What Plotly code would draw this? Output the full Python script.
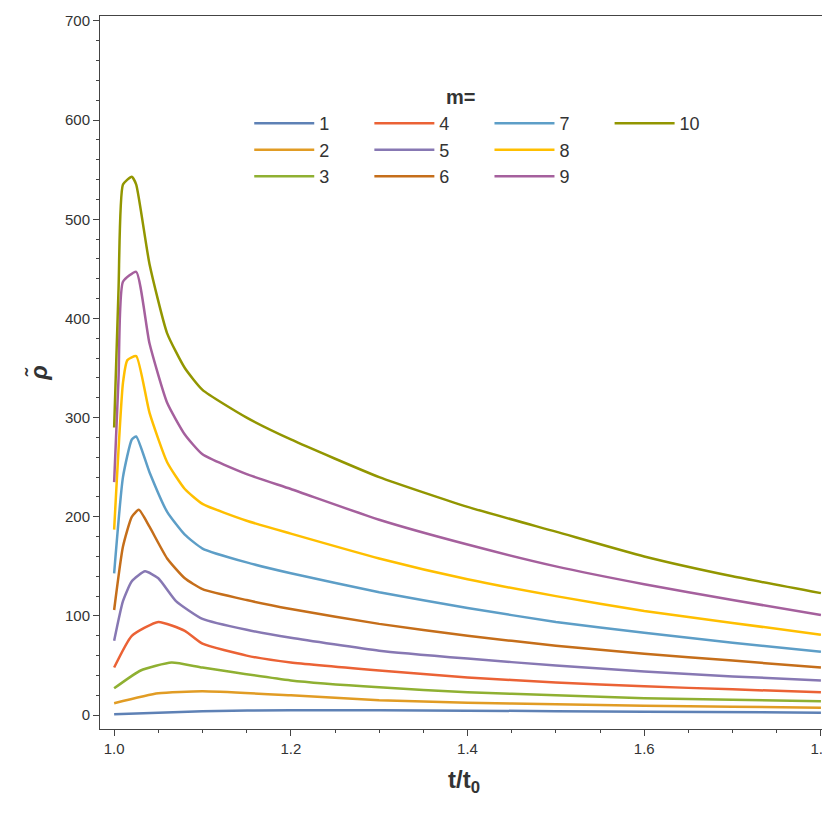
import plotly.graph_objects as go

COLORS = ["#5E81B5", "#E19C24", "#8FB032", "#EB6235", "#8778B3",
          "#C56E1A", "#5D9EC7", "#FFBF00", "#A5609D", "#929600"]

# values, t/t0 -> rho~
t1 = [1.0, 1.1, 1.2, 1.4, 1.6, 1.8]
r1 = [1, 4, 5, 4.5, 3.5, 2.5]
t2 = [1.0, 1.05, 1.1, 1.2, 1.3, 1.4, 1.5, 1.6, 1.7, 1.8]
r2 = [12, 22, 24, 20, 15, 12.5, 11, 9.5, 8.5, 7.5]
t3 = [1.0, 1.03, 1.065, 1.1, 1.2, 1.3, 1.4, 1.5, 1.6, 1.7, 1.8]
r3 = [27, 45, 53, 48, 35, 28, 23, 20, 17, 15.5, 14]
t4 = [1.0, 1.02, 1.05, 1.08, 1.1, 1.15, 1.2, 1.3, 1.4, 1.5, 1.6, 1.7, 1.8]
r4 = [48, 80, 94, 85, 72, 60, 53, 45, 38, 33, 29, 26, 23]
t5 = [1.0, 1.01, 1.02, 1.035, 1.05, 1.07, 1.1, 1.15, 1.2, 1.3, 1.4, 1.5, 1.6, 1.7, 1.8]
r5 = [75, 115, 135, 145, 138, 115, 97, 86, 78, 65, 57, 50, 44, 39, 35]
t6 = [1.0, 1.01, 1.02, 1.028, 1.04, 1.06, 1.08, 1.1, 1.15, 1.2, 1.3, 1.4, 1.5, 1.6, 1.7, 1.8]
r6 = [106, 170, 200, 207, 190, 158, 138, 127, 116, 107, 92, 80, 70, 62, 55, 48]
t7 = [1.0, 1.01, 1.02, 1.025, 1.04, 1.06, 1.08, 1.1, 1.15, 1.2, 1.3, 1.4, 1.5, 1.6, 1.7, 1.8]
r7 = [143, 240, 278, 281, 245, 205, 182, 168, 154, 143, 124, 108, 94, 83, 73, 64]
t8 = [1.0, 1.01, 1.015, 1.025, 1.04, 1.06, 1.08, 1.1, 1.15, 1.2, 1.3, 1.4, 1.5, 1.6, 1.7, 1.8]
r8 = [187, 335, 358, 362, 305, 255, 228, 213, 196, 183, 158, 137, 120, 105, 93, 81]
t9 = [1.0, 1.005, 1.01, 1.025, 1.04, 1.06, 1.08, 1.1, 1.15, 1.2, 1.3, 1.4, 1.5, 1.6, 1.7, 1.8]
r9 = [235, 340, 437, 447, 375, 315, 283, 263, 243, 228, 197, 172, 150, 132, 116, 101]
t10 = [1.0, 1.005, 1.01, 1.02, 1.025, 1.04, 1.06, 1.08, 1.1, 1.15, 1.2, 1.3, 1.4, 1.5, 1.6, 1.7, 1.8]
r10 = [290, 430, 535, 543, 535, 455, 385, 350, 328, 300, 278, 240, 210, 185, 160, 140, 123]

series = [(t1, r1), (t2, r2), (t3, r3), (t4, r4), (t5, r5),
          (t6, r6), (t7, r7), (t8, r8), (t9, r9), (t10, r10)]
# legend columns as in the picture
legend_cols = [[1, 2, 3], [4, 5, 6], [7, 8, 9], [10]]
col_x = [0.205, 0.37, 0.535, 0.70]

fig = go.Figure()
for ci, col in enumerate(legend_cols):
    lg = "legend" if ci == 0 else f"legend{ci + 1}"
    for m in col:
        t, r = series[m - 1]
        fig.add_trace(go.Scatter(
            x=t, y=r, mode="lines", name=str(m), legend=lg,
            line=dict(color=COLORS[m - 1], width=2.5, shape="spline", smoothing=0.5),
        ))

legends = {}
for ci in range(4):
    key = "legend" if ci == 0 else f"legend{ci + 1}"
    legends[key] = dict(
        x=col_x[ci], y=0.875, xanchor="left", yanchor="top",
        font=dict(size=18), tracegroupgap=0, itemwidth=60,
        bgcolor="rgba(0,0,0,0)", traceorder="normal",
    )

axis_common = dict(
    showline=True, linecolor="#444", mirror=True, ticks="outside",
    ticklen=6, tickcolor="#444", showgrid=False, zeroline=False,
    tickfont=dict(size=15, color="#333"),
    minor=dict(ticks="outside", ticklen=3, tickcolor="#444"),
)

fig.update_layout(
    width=830, height=821,
    paper_bgcolor="white", plot_bgcolor="white",
    font=dict(family="Liberation Sans, Arial", color="#333"),
    margin=dict(l=92, r=10, t=4, b=100),
    showlegend=True,
    **legends,
)
fig.add_annotation(text="<b>m=</b>", xref="paper", yref="paper", x=0.495, y=0.905,
                   showarrow=False, font=dict(size=20, color="#333"))
fig.update_xaxes(range=[0.984, 1.808], tickvals=[1.0, 1.2, 1.4, 1.6, 1.8],
                 ticktext=["1.0", "1.2", "1.4", "1.6", "1.8"],
                 title=dict(text="<b>t/t<sub>0</sub></b>", font=dict(size=24)),
                 **axis_common)
fig.update_yaxes(range=[-14, 705], dtick=100,
                 title=dict(text="<b><i>ρ̃</i></b>", font=dict(size=24), standoff=10),
                 **axis_common)

fig.write_html("out.html")
